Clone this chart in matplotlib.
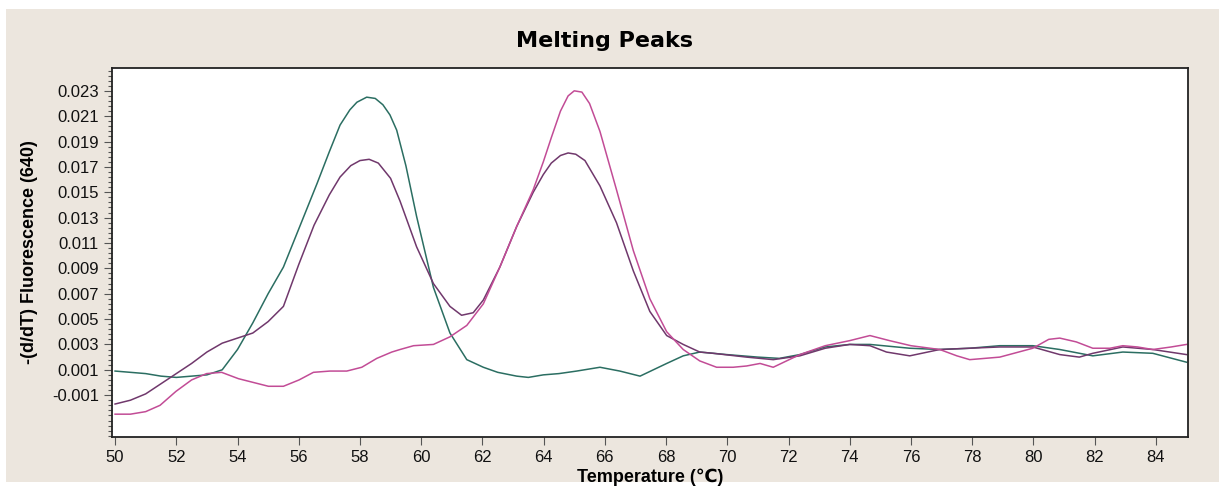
import numpy as np
import matplotlib
matplotlib.use("Agg")
import matplotlib.pyplot as plt
from matplotlib.patches import Rectangle
from matplotlib.ticker import MultipleLocator, AutoMinorLocator

# teal sample (single low-Tm peak)
t_teal = [50.0, 50.5, 51.0, 51.5, 52.0, 52.5, 53.0, 53.5, 54.0, 54.5, 55.0, 55.5, 55.9, 56.6,
          57.0, 57.35, 57.67, 57.9, 58.22, 58.5, 58.75, 58.98, 59.2, 59.5, 59.85, 60.4, 60.94,
          61.49, 62.03, 62.5, 63.12, 63.5, 63.99, 64.5, 65.08, 65.84, 66.49, 67.15, 68.02,
          68.56, 69.1, 69.98, 71.0, 71.7, 72.37, 73.2, 74.0, 74.66, 75.96, 76.94, 77.92, 78.9,
          79.98, 80.86, 81.94, 82.92, 83.9, 85.0]
d_teal = [0.0009, 0.0008, 0.0007, 0.0005, 0.0004, 0.0005, 0.0006, 0.0010, 0.0026, 0.0047,
          0.0070, 0.0091, 0.0115, 0.0157, 0.0182, 0.0203, 0.0215, 0.0221, 0.0225, 0.0224,
          0.0219, 0.0211, 0.0199, 0.0171, 0.0131, 0.0075, 0.0039, 0.0018, 0.0012, 0.0008,
          0.0005, 0.0004, 0.0006, 0.0007, 0.0009, 0.0012, 0.0009, 0.0005, 0.0015, 0.0021,
          0.0024, 0.0022, 0.0020, 0.0019, 0.0022, 0.0028, 0.0030, 0.0030, 0.0027, 0.0026,
          0.0027, 0.0029, 0.0029, 0.0026, 0.0021, 0.0024, 0.0023, 0.0016]

# dark purple sample (two peaks)
t_purple = [50.0, 50.5, 51.0, 51.5, 52.0, 52.5, 53.0, 53.5, 54.0, 54.5, 55.0, 55.5, 56.0, 56.5,
            57.0, 57.35, 57.7, 58.0, 58.3, 58.6, 59.0, 59.31, 59.85, 60.4, 60.94, 61.32, 61.7,
            62.03, 62.57, 63.12, 63.66, 63.99, 64.25, 64.55, 64.8, 65.05, 65.35, 65.84, 66.38,
            66.93, 67.47, 68.02, 68.56, 69.1, 69.54, 70.63, 71.5, 72.37, 73.2, 74.0, 74.66,
            75.2, 75.96, 76.94, 77.92, 78.9, 79.98, 80.86, 81.5, 81.94, 82.92, 83.9, 85.0]
d_purple = [-0.0017, -0.0014, -0.0009, -0.0001, 0.0007, 0.0015, 0.0024, 0.0031, 0.0035, 0.0039,
            0.0048, 0.0060, 0.0093, 0.0124, 0.0148, 0.0162, 0.0171, 0.0175, 0.0176, 0.0173,
            0.0161, 0.0143, 0.0107, 0.0078, 0.0060, 0.0053, 0.0055, 0.0065, 0.0091, 0.0123,
            0.0150, 0.0164, 0.0173, 0.0179, 0.0181, 0.0180, 0.0175, 0.0155, 0.0126, 0.0088,
            0.0056, 0.0037, 0.0030, 0.0024, 0.0023, 0.0020, 0.0018, 0.0021, 0.0027, 0.0030,
            0.0029, 0.0024, 0.0021, 0.0026, 0.0027, 0.0028, 0.0028, 0.0022, 0.0020, 0.0023,
            0.0028, 0.0026, 0.0022]

# pink sample (single high-Tm peak)
t_pink = [50.0, 50.5, 51.0, 51.47, 51.99, 52.5, 52.99, 53.48, 54.03, 54.52, 55.01, 55.5, 56.01,
          56.48, 57.02, 57.57, 58.06, 58.55, 59.04, 59.31, 59.75, 60.4, 60.94, 61.49, 62.03,
          62.57, 63.12, 63.66, 63.99, 64.25, 64.55, 64.8, 65.0, 65.25, 65.5, 65.84, 66.38,
          66.93, 67.47, 68.02, 68.56, 69.1, 69.65, 70.19, 70.63, 71.07, 71.5, 72.37, 73.2,
          74.0, 74.66, 75.3, 76.0, 76.94, 77.5, 77.92, 78.9, 79.98, 80.5, 80.86, 81.4, 81.94,
          82.5, 82.92, 83.4, 83.9, 84.5, 85.0]
d_pink = [-0.0025, -0.0025, -0.0023, -0.0018, -0.0007, 0.0002, 0.0007, 0.0008, 0.0003, 0.0000,
          -0.0003, -0.0003, 0.0002, 0.0008, 0.0009, 0.0009, 0.0012, 0.0019, 0.0024, 0.0026,
          0.0029, 0.0030, 0.0036, 0.0045, 0.0062, 0.0091, 0.0123, 0.0152, 0.0174, 0.0193,
          0.0214, 0.0226, 0.0230, 0.0229, 0.0220, 0.0198, 0.0152, 0.0104, 0.0066, 0.0040,
          0.0026, 0.0017, 0.0012, 0.0012, 0.0013, 0.0015, 0.0012, 0.0022, 0.0029, 0.0033,
          0.0037, 0.0033, 0.0029, 0.0026, 0.0021, 0.0018, 0.0020, 0.0027, 0.0034, 0.0035,
          0.0032, 0.0027, 0.0027, 0.0029, 0.0028, 0.0026, 0.0028, 0.0030]

ytick_vals = [-0.001, 0.001, 0.003, 0.005, 0.007, 0.009, 0.011, 0.013, 0.015, 0.017, 0.019, 0.021, 0.023]
xtick_vals = list(range(50, 86, 2))

plt.rcParams['font.family'] = ['Liberation Sans', 'DejaVu Sans']

fig = plt.figure(figsize=(12.19, 4.88), dpi=100, facecolor='white')
# beige panel, white margin top/left/bottom
fig.patches.append(Rectangle((6 / 1219, 6 / 488), 1 - 6 / 1219, 1 - 15 / 488,
                             transform=fig.transFigure, facecolor='#ECE6DE', edgecolor='none', zorder=-10))

ax = fig.add_axes([112 / 1219, 51 / 488, 1076 / 1219, 369 / 488])
ax.set_facecolor('white')

ax.plot(t_teal, d_teal, color='#2B6E62', lw=1.1)
ax.plot(t_purple, d_purple, color='#70386C', lw=1.1)
ax.plot(t_pink, d_pink, color='#C24C96', lw=1.1)

ax.set_xlim(49.9, 85.05)
ax.set_ylim(-0.0043, 0.0248)
ax.set_xticks(xtick_vals)
ax.set_yticks(ytick_vals)
ax.set_yticklabels(["%.3f" % v for v in ytick_vals])
ax.yaxis.set_minor_locator(AutoMinorLocator(5))
ax.tick_params(axis='both', labelsize=12, length=6, width=0.8, color='#555555', labelcolor='#111111')
ax.tick_params(axis='y', which='minor', length=3, width=0.8, color='#555555')
ax.tick_params(axis='x', pad=3)
for s in ax.spines.values():
    s.set_linewidth(1.3)
    s.set_color('#222222')

ax.set_xlabel("Temperature (\u2103)", fontsize=13, fontweight='bold', labelpad=3)
ax.set_ylabel("-(d/dT) Fluorescence (640)", fontsize=13, fontweight='bold')
ax.yaxis.set_label_coords(-0.069, 0.5)
fig.text(604 / 1219, 1 - 41 / 488, "Melting Peaks", fontsize=16, fontweight='bold',
         family='DejaVu Sans', ha='center', va='center')

plt.savefig("out.png", dpi=100, facecolor=fig.get_facecolor())
